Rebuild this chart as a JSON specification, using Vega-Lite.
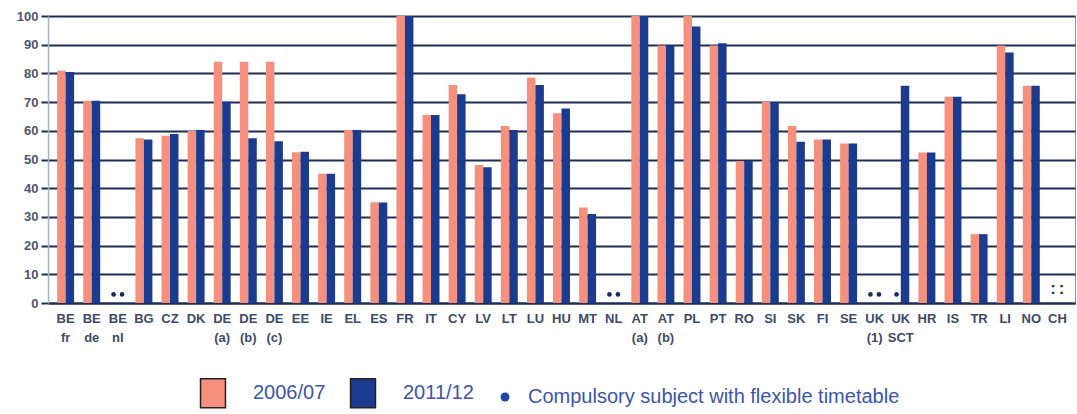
{
  "$schema": "https://vega.github.io/schema/vega-lite/v6.json",
  "width": 1027,
  "height": 287,
  "autosize": {"type": "none"},
  "padding": {"left": 48, "top": 16, "right": 2, "bottom": 111},
  "background": "white",
  "config": {
    "view": {"stroke": "#8793b0", "strokeWidth": 1},
    "font": "Liberation Sans",
    "axisY": {
      "title": null,
      "values": [0, 10, 20, 30, 40, 50, 60, 70, 80, 90, 100],
      "grid": true,
      "gridColor": "#1d2d57",
      "gridWidth": 2,
      "gridOpacity": 1,
      "tickColor": "#1d2d57",
      "tickSize": 7,
      "tickWidth": 2,
      "domainColor": "#a7b1c6",
      "domainWidth": 1.5,
      "labelFontSize": 13,
      "labelFontWeight": "bold",
      "labelColor": "#4a5573",
      "labelPadding": 3,
      "labelOverlap": false
    }
  },
  "data": {
    "values": [
      {"country": "BE|fr", "year": "2006/07", "value": 81, "status": null},
      {"country": "BE|fr", "year": "2011/12", "value": 80.5, "status": null},
      {"country": "BE|de", "year": "2006/07", "value": 70.5, "status": null},
      {"country": "BE|de", "year": "2011/12", "value": 70.5, "status": null},
      {"country": "BE|nl", "year": "2006/07", "value": null, "status": "flex"},
      {"country": "BE|nl", "year": "2011/12", "value": null, "status": "flex"},
      {"country": "BG", "year": "2006/07", "value": 57.4, "status": null},
      {"country": "BG", "year": "2011/12", "value": 57, "status": null},
      {"country": "CZ", "year": "2006/07", "value": 58.3, "status": null},
      {"country": "CZ", "year": "2011/12", "value": 58.9, "status": null},
      {"country": "DK", "year": "2006/07", "value": 60, "status": null},
      {"country": "DK", "year": "2011/12", "value": 60.3, "status": null},
      {"country": "DE|(a)", "year": "2006/07", "value": 84.1, "status": null},
      {"country": "DE|(a)", "year": "2011/12", "value": 70.1, "status": null},
      {"country": "DE|(b)", "year": "2006/07", "value": 84.1, "status": null},
      {"country": "DE|(b)", "year": "2011/12", "value": 57.4, "status": null},
      {"country": "DE|(c)", "year": "2006/07", "value": 84.1, "status": null},
      {"country": "DE|(c)", "year": "2011/12", "value": 56.4, "status": null},
      {"country": "EE", "year": "2006/07", "value": 52.5, "status": null},
      {"country": "EE", "year": "2011/12", "value": 52.7, "status": null},
      {"country": "IE", "year": "2006/07", "value": 45, "status": null},
      {"country": "IE", "year": "2011/12", "value": 45, "status": null},
      {"country": "EL", "year": "2006/07", "value": 60.3, "status": null},
      {"country": "EL", "year": "2011/12", "value": 60.3, "status": null},
      {"country": "ES", "year": "2006/07", "value": 35.1, "status": null},
      {"country": "ES", "year": "2011/12", "value": 35, "status": null},
      {"country": "FR", "year": "2006/07", "value": 100, "status": null},
      {"country": "FR", "year": "2011/12", "value": 100, "status": null},
      {"country": "IT", "year": "2006/07", "value": 65.5, "status": null},
      {"country": "IT", "year": "2011/12", "value": 65.5, "status": null},
      {"country": "CY", "year": "2006/07", "value": 76, "status": null},
      {"country": "CY", "year": "2011/12", "value": 72.7, "status": null},
      {"country": "LV", "year": "2006/07", "value": 48.1, "status": null},
      {"country": "LV", "year": "2011/12", "value": 47.3, "status": null},
      {"country": "LT", "year": "2006/07", "value": 61.7, "status": null},
      {"country": "LT", "year": "2011/12", "value": 60.3, "status": null},
      {"country": "LU", "year": "2006/07", "value": 78.6, "status": null},
      {"country": "LU", "year": "2011/12", "value": 76, "status": null},
      {"country": "HU", "year": "2006/07", "value": 66.1, "status": null},
      {"country": "HU", "year": "2011/12", "value": 67.8, "status": null},
      {"country": "MT", "year": "2006/07", "value": 33.3, "status": null},
      {"country": "MT", "year": "2011/12", "value": 31, "status": null},
      {"country": "NL", "year": "2006/07", "value": null, "status": "flex"},
      {"country": "NL", "year": "2011/12", "value": null, "status": "flex"},
      {"country": "AT|(a)", "year": "2006/07", "value": 100, "status": null},
      {"country": "AT|(a)", "year": "2011/12", "value": 100, "status": null},
      {"country": "AT|(b)", "year": "2006/07", "value": 89.7, "status": null},
      {"country": "AT|(b)", "year": "2011/12", "value": 89.7, "status": null},
      {"country": "PL", "year": "2006/07", "value": 100, "status": null},
      {"country": "PL", "year": "2011/12", "value": 96.3, "status": null},
      {"country": "PT", "year": "2006/07", "value": 89.7, "status": null},
      {"country": "PT", "year": "2011/12", "value": 90.5, "status": null},
      {"country": "RO", "year": "2006/07", "value": 49.5, "status": null},
      {"country": "RO", "year": "2011/12", "value": 49.5, "status": null},
      {"country": "SI", "year": "2006/07", "value": 70.1, "status": null},
      {"country": "SI", "year": "2011/12", "value": 69.8, "status": null},
      {"country": "SK", "year": "2006/07", "value": 61.7, "status": null},
      {"country": "SK", "year": "2011/12", "value": 56.2, "status": null},
      {"country": "FI", "year": "2006/07", "value": 57, "status": null},
      {"country": "FI", "year": "2011/12", "value": 57, "status": null},
      {"country": "SE", "year": "2006/07", "value": 55.6, "status": null},
      {"country": "SE", "year": "2011/12", "value": 55.6, "status": null},
      {"country": "UK|(1)", "year": "2006/07", "value": null, "status": "flex"},
      {"country": "UK|(1)", "year": "2011/12", "value": null, "status": "flex"},
      {"country": "UK|SCT", "year": "2006/07", "value": null, "status": "flex"},
      {"country": "UK|SCT", "year": "2011/12", "value": 75.7, "status": null},
      {"country": "HR", "year": "2006/07", "value": 52.4, "status": null},
      {"country": "HR", "year": "2011/12", "value": 52.4, "status": null},
      {"country": "IS", "year": "2006/07", "value": 71.9, "status": null},
      {"country": "IS", "year": "2011/12", "value": 71.9, "status": null},
      {"country": "TR", "year": "2006/07", "value": 24, "status": null},
      {"country": "TR", "year": "2011/12", "value": 24, "status": null},
      {"country": "LI", "year": "2006/07", "value": 89.7, "status": null},
      {"country": "LI", "year": "2011/12", "value": 87.3, "status": null},
      {"country": "NO", "year": "2006/07", "value": 75.7, "status": null},
      {"country": "NO", "year": "2011/12", "value": 75.7, "status": null},
      {"country": "CH", "year": "2006/07", "value": null, "status": "na"},
      {"country": "CH", "year": "2011/12", "value": null, "status": "na"}
    ]
  },
  "encoding": {
    "x": {
      "field": "country",
      "type": "nominal",
      "sort": null,
      "scale": {
        "domain": ["BE|fr", "BE|de", "BE|nl", "BG", "CZ", "DK", "DE|(a)", "DE|(b)", "DE|(c)", "EE", "IE", "EL", "ES", "FR", "IT", "CY", "LV", "LT", "LU", "HU", "MT", "NL", "AT|(a)", "AT|(b)", "PL", "PT", "RO", "SI", "SK", "FI", "SE", "UK|(1)", "UK|SCT", "HR", "IS", "TR", "LI", "NO", "CH"],
        "paddingInner": 0.35,
        "paddingOuter": 0.35
      },
      "axis": {
        "title": null,
        "labelAngle": 0,
        "labelExpr": "split(datum.label, '|')",
        "labelFontSize": 13,
        "labelFontWeight": "bold",
        "labelColor": "#3d4a6c",
        "labelPadding": 9,
        "labelLineHeight": 19,
        "labelBaseline": "top",
        "ticks": false,
        "domainColor": "#1d2d57",
        "domainWidth": 2
      }
    },
    "xOffset": {"field": "year", "type": "nominal", "sort": ["2006/07", "2011/12"]}
  },
  "layer": [
    {
      "transform": [{"filter": "datum.value != null"}],
      "mark": {"type": "bar"},
      "encoding": {
        "y": {
          "field": "value",
          "type": "quantitative",
          "scale": {"domain": [0, 100], "nice": false}
        },
        "color": {
          "field": "year",
          "type": "nominal",
          "scale": {
            "domain": ["2006/07", "2011/12", "Compulsory subject with flexible timetable"],
            "range": ["#F4907D", "#1B3B8F", "#1F45A8"]
          },
          "legend": {
            "orient": "none",
            "legendX": 155,
            "legendY": 367,
            "direction": "horizontal",
            "columns": 3,
            "title": null,
            "padding": 0,
            "labelFontSize": 20,
            "labelColor": "#3a55b0",
            "labelLimit": 600,
            "labelOffset": 30,
            "columnPadding": 21,
            "symbolType": "M-0.86,-1H0.86V1H-0.86Z",
            "symbolSize": 841,
            "symbolStrokeColor": "#222222",
            "symbolStrokeWidth": 1.5,
            "encode": {
              "symbols": {
                "update": {
                  "shape": {"signal": "datum.value === 'Compulsory subject with flexible timetable' ? 'circle' : 'M-0.86,-1H0.86V1H-0.86Z'"},
                  "size": {"signal": "datum.value === 'Compulsory subject with flexible timetable' ? 80 : 841"},
                  "strokeWidth": {"signal": "datum.value === 'Compulsory subject with flexible timetable' ? 0 : 1.5"}
                }
              },
              "labels": {
                "update": {
                  "dx": {"signal": "datum.value === 'Compulsory subject with flexible timetable' ? -17 : 0"}
                }
              }
            }
          }
        }
      }
    },
    {
      "transform": [{"filter": "datum.status === 'flex'"}],
      "mark": {"type": "circle", "size": 22, "color": "#1a2b5e", "opacity": 1},
      "encoding": {"y": {"datum": 3, "type": "quantitative"}}
    },
    {
      "transform": [{"filter": "datum.status === 'na'"}],
      "mark": {"type": "text", "text": ":", "fontSize": 17, "fontWeight": "bold", "color": "#333333", "baseline": "middle"},
      "encoding": {"y": {"datum": 5, "type": "quantitative"}}
    }
  ]
}
